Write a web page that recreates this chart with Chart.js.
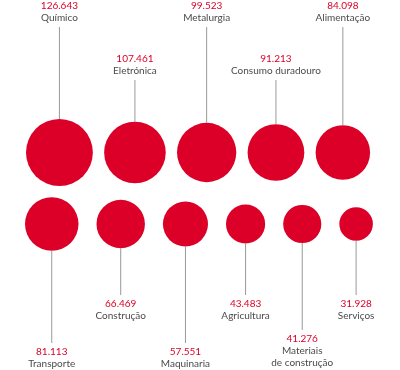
<!DOCTYPE html>
<html>
<head>
<meta charset="utf-8">
<script src="https://cdn.jsdelivr.net/npm/chart.js@4"></script>
<style>
  html, body { margin: 0; padding: 0; background: #fff; }
  #wrap { position: relative; width: 400px; height: 370px; }
</style>
</head>
<body>
<div id="wrap"><canvas id="chart"></canvas></div>
<script>
// valores em milhares
const topNames = ['Químico', 'Eletrónica', 'Metalurgia', 'Consumo duradouro', 'Alimentação'];
const topValues = [126643, 107461, 99523, 91213, 84098];
const bottomNames = ['Transporte', 'Construção', 'Maquinaria', 'Agricultura', 'Materiais\nde construção', 'Serviços'];
const bottomValues = [81113, 66469, 57551, 43483, 41276, 31928];

const RED = '#dc0028';
const GREY_TEXT = '#4a4a4a';
const FONT = '10px Lato, "DejaVu Sans", sans-serif';

// raio proporcional à raiz do valor (área ~ valor)
const radius = (v) => 2.97 * Math.sqrt(v / 1000);

// layout: posição das linhas e textos
const topRow = { cy: 152.5, left: 26, gap: 11.3, lineTops: [27, 80, 27, 80, 27] };
const bottomRow = { cy: 224, left: 25, gap: 18, lineEnds: [343, 295, 343, 295, 330, 295] };

function packRow(values, row) {
  let x = row.left;
  return values.map((v, i) => {
    const r = radius(v);
    if (i > 0) x += row.gap;
    x += r;
    const p = { x, y: row.cy, r };
    x += r;
    return p;
  });
}

const fmt = (v) => String(v).replace(/\B(?=(\d{3})+(?!\d))/g, '.');

const labelPlugin = {
  id: 'bubbleLabels',
  afterDatasetsDraw(chart) {
    const ctx = chart.ctx;
    ctx.save();
    ctx.font = FONT;
    ctx.textAlign = 'center';
    ctx.textBaseline = 'middle';
    ctx.lineWidth = 1;
    ctx.strokeStyle = '#999';
    chart.data.datasets.forEach((ds, di) => {
      const meta = chart.getDatasetMeta(di);
      meta.data.forEach((el, i) => {
        const r = el.options.radius;
        const value = ds.values[i];
        const lines = ds.names[i].split('\n');
        ctx.beginPath();
        if (di === 0) {
          const top = topRow.lineTops[i];
          ctx.moveTo(el.x, top);
          ctx.lineTo(el.x, el.y - r);
          ctx.stroke();
          const valueY = top - 21;
          ctx.fillStyle = RED;
          ctx.fillText(fmt(value), el.x, valueY);
          ctx.fillStyle = GREY_TEXT;
          lines.forEach((t, k) => ctx.fillText(t, el.x, valueY + 12 * (k + 1)));
        } else {
          const end = bottomRow.lineEnds[i];
          ctx.moveTo(el.x, el.y + r);
          ctx.lineTo(el.x, end);
          ctx.stroke();
          const valueY = end + 9;
          ctx.fillStyle = RED;
          ctx.fillText(fmt(value), el.x, valueY);
          ctx.fillStyle = GREY_TEXT;
          lines.forEach((t, k) => ctx.fillText(t, el.x, valueY + 12 * (k + 1)));
        }
      });
    });
    ctx.restore();
  }
};

new Chart(document.getElementById('chart'), {
  type: 'bubble',
  data: {
    datasets: [
      { names: topNames, values: topValues, data: packRow(topValues, topRow),
        backgroundColor: RED, borderWidth: 0, hoverBorderWidth: 0, clip: false },
      { names: bottomNames, values: bottomValues, data: packRow(bottomValues, bottomRow),
        backgroundColor: RED, borderWidth: 0, hoverBorderWidth: 0, clip: false }
    ]
  },
  options: {
    responsive: true,
    maintainAspectRatio: false,
    animation: false,
    events: [],
    layout: { padding: 0, autoPadding: false },
    plugins: { legend: { display: false }, tooltip: { enabled: false } },
    scales: {
      x: { type: 'linear', min: 0, max: 400, display: false },
      y: { type: 'linear', min: 0, max: 370, reverse: true, display: false }
    }
  },
  plugins: [labelPlugin]
});
</script>
</body>
</html>
